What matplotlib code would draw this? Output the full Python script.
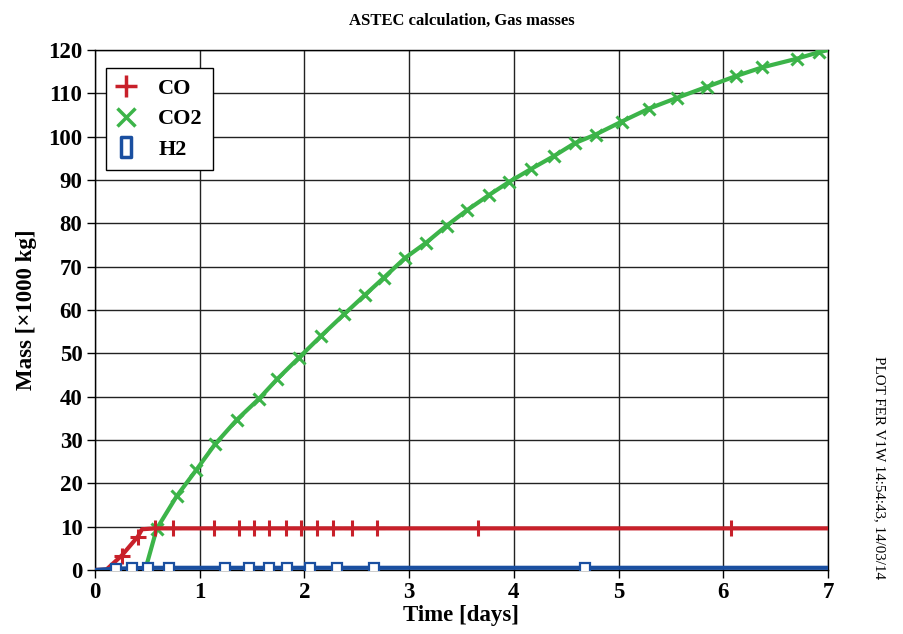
import numpy as np
import matplotlib
matplotlib.use('Agg')
import matplotlib.pyplot as plt
from matplotlib.lines import Line2D
from matplotlib.path import Path

plt.rcParams['font.family'] = ['Liberation Serif', 'DejaVu Serif']

# CO mass [x1000 kg] vs time [days]
co_t = [0.0, 0.11, 0.255, 0.41, 0.45, 0.575, 0.745, 1.14, 1.375, 1.52, 1.66,
        1.82, 1.965, 2.12, 2.27, 2.455, 2.69, 3.655, 6.07, 7.0]
co_v = [0.0, 0.1, 3.3, 7.7, 9.4, 9.6, 9.6, 9.6, 9.6, 9.6, 9.6,
        9.6, 9.6, 9.6, 9.6, 9.6, 9.6, 9.6, 9.6, 9.6]
co_marks = [2, 3, 5, 6, 7, 8, 9, 10, 11, 12, 13, 14, 15, 16, 17, 18]

# CO2
co2_t = [0.48, 0.59, 0.78, 0.965, 1.146, 1.356, 1.566, 1.738, 1.948, 2.159,
         2.378, 2.579, 2.76, 2.96, 3.16, 3.36, 3.55, 3.76, 3.95, 4.16, 4.38,
         4.58, 4.78, 5.03, 5.29, 5.56, 5.84, 6.12, 6.37, 6.70, 6.91, 7.0]
co2_v = [0.0, 9.5, 17.0, 23.0, 29.0, 34.7, 39.5, 44.0, 49.0, 54.0,
         59.0, 63.5, 67.5, 72.0, 75.5, 79.5, 83.0, 86.5, 89.5, 92.5, 95.5,
         98.5, 100.5, 103.5, 106.5, 109.0, 111.5, 114.0, 116.0, 118.0, 119.5, 120.0]
co2_marks = list(range(1, 31))

# H2
h2_t = [0.0, 0.2, 0.35, 0.51, 0.71, 1.24, 1.47, 1.66, 1.83, 2.05, 2.31, 2.66,
        4.68, 7.0]
h2_v = [0.0, 0.3, 0.4, 0.5, 0.5, 0.5, 0.5, 0.5, 0.5, 0.5, 0.5, 0.5, 0.5, 0.5]
h2_marks = list(range(1, 13))

RED = '#c8202a'
GREEN = '#3cb449'
BLUE = '#1a4fa0'

rect = Path([(-0.5, -1), (0.5, -1), (0.5, 1), (-0.5, 1), (-0.5, -1)],
            [Path.MOVETO, Path.LINETO, Path.LINETO, Path.LINETO, Path.CLOSEPOLY])

fig = plt.figure(figsize=(9.04, 6.34), dpi=100)
ax = fig.add_axes([0.105, 0.101, 0.811, 0.820])

ax.plot(co_t, co_v, '-', color=RED, lw=3, marker='+', ms=11, mew=2.2,
        markevery=co_marks, zorder=4)
ax.plot(co2_t, co2_v, '-', color=GREEN, lw=3, marker='x', ms=9, mew=2.2,
        markevery=co2_marks, zorder=3)
ax.plot(h2_t, h2_v, '-', color=BLUE, lw=3, marker='s', ms=6.5, mew=1.6,
        mfc='white', markevery=h2_marks, zorder=5)

ax.set_xlim(0, 7)
ax.set_ylim(0, 120)
ax.set_xticks(range(0, 8))
ax.set_yticks(range(0, 121, 10))
ax.grid(True, color='#222222', lw=1)
ax.set_axisbelow(True)
ax.tick_params(direction='out', length=6, width=1, labelsize=16.5, pad=3)
for lab in ax.get_xticklabels() + ax.get_yticklabels():
    lab.set_fontweight('bold')
for s in ax.spines.values():
    s.set_linewidth(1)

ax.set_xlabel('Time [days]', fontsize=16.5, fontweight='bold', labelpad=1)
ax.set_ylabel('Mass [\u00d71000 kg]', fontsize=16.5, fontweight='bold', labelpad=8)
ax.set_title('ASTEC calculation, Gas masses', fontsize=12, fontweight='bold', pad=18)

handles = [
    Line2D([], [], ls='none', color=RED, marker='+', ms=16, mew=2.5),
    Line2D([], [], ls='none', color=GREEN, marker='x', ms=13, mew=2.5),
    Line2D([], [], ls='none', color=BLUE, marker=rect, ms=14, mew=2.5, mfc='none'),
]
leg = ax.legend(handles, ['CO', 'CO2', 'H2'], loc='upper left',
                bbox_to_anchor=(0.015, 0.965), fancybox=False, framealpha=1,
                edgecolor='black', prop={'weight': 'bold', 'size': 16},
                handlelength=0.9, handletextpad=1.0, borderpad=0.45,
                labelspacing=0.45, borderaxespad=0)
leg.get_frame().set_linewidth(1)

fig.text(0.973, 0.263, 'PLOT FER V1W 14:54:43, 14/03/14', rotation=-90,
         ha='center', va='center', fontsize=10.8)

plt.savefig('out.png', dpi=100)
